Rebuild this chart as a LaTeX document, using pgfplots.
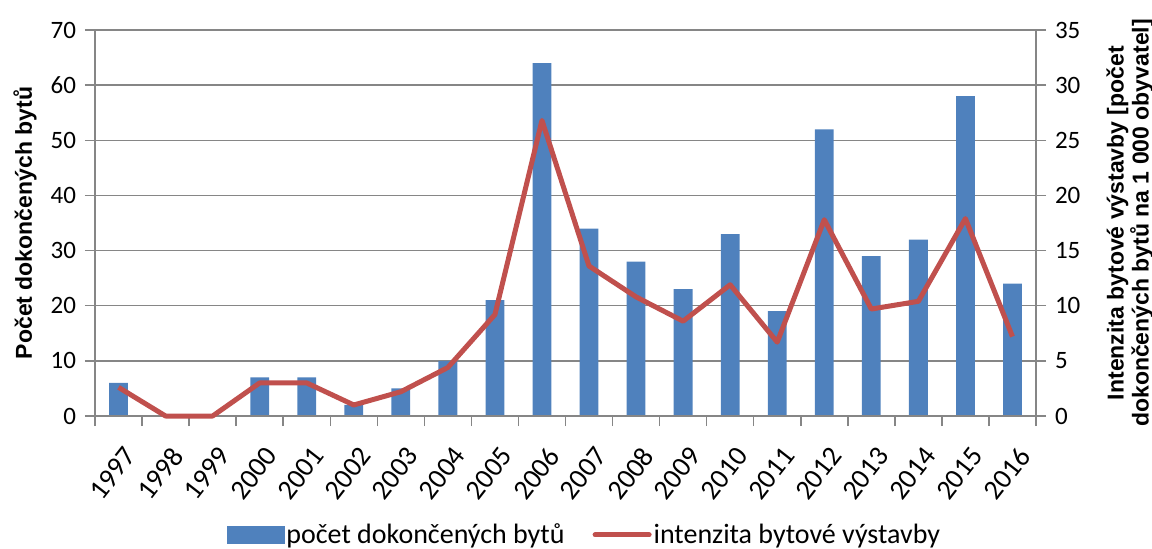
\documentclass[border=0pt]{standalone}
\usepackage{pgfplots}
\pgfplotsset{compat=1.18}
\usepackage{fontspec}
\setmainfont{Carlito}
\newfontfamily\labelfont{Liberation Sans}
\definecolor{barblue}{HTML}{4F81BD}
\definecolor{linered}{HTML}{C0504D}
\definecolor{axgray}{HTML}{868686}

\pgfplotstableread{
x cnt
0 6
1 0
2 0
3 7
4 7
5 2
6 5
7 10
8 21
9 64
10 34
11 28
12 23
13 33
14 19
15 52
16 29
17 32
18 58
19 24
}\bars

\pgfplotstableread{
x val
0 2.6
1 0
2 0
3 3.0
4 3.0
5 1.0
6 2.2
7 4.4
8 9.2
9 26.8
10 13.6
11 10.8
12 8.6
13 11.9
14 6.7
15 17.8
16 9.7
17 10.4
18 17.9
19 7.2
}\intens

\begin{document}
\begin{tikzpicture}
\useasboundingbox (-47.5pt,-66pt) rectangle (528.5pt,208pt);
\begin{axis}[
  at={(0,0)}, anchor=south west,
  scale only axis, width=470.5pt, height=193pt,
  xmin=-0.5, xmax=19.5, ymin=0, ymax=70,
  axis y line*=left, axis x line*=bottom,
  axis line style={axgray, line width=0.75pt},
  ytick={0,10,...,70},
  xtick={0,...,19},
  xticklabels={1997,1998,1999,2000,2001,2002,2003,2004,2005,2006,2007,2008,2009,2010,2011,2012,2013,2014,2015,2016},
  xtick style={draw=none},
  ytick style={axgray, line width=0.75pt},
  tick align=outside, major tick length=5pt,
  ymajorgrids, grid style={axgray, line width=0.75pt},
  /pgf/number format/assume math mode=true,
  tick label style={font=\fontsize{12.5}{14}\selectfont, black},
  xticklabel style={font=\fontsize{14}{16}\selectfont, yshift=-8pt, xshift=2pt, rotate=52, anchor=north east, inner sep=1pt},
  yticklabel style={xshift=-1pt},
  ylabel={Počet dokončených bytů},
  every axis y label/.style={at={(axis description cs:-0.0744,0.5)}, anchor=center, rotate=90, font=\labelfont\bfseries\fontsize{11.5}{13}\selectfont},
  clip=false,
]
\addplot[ybar, bar width=9.4pt, fill=barblue, draw=none] table[x=x, y=cnt] {\bars};
\end{axis}
\begin{axis}[
  at={(0,0)}, anchor=south west,
  scale only axis, width=470.5pt, height=193pt,
  xmin=-0.5, xmax=19.5, ymin=0, ymax=35,
  axis y line*=right, axis x line*=bottom,
  axis line style={axgray, line width=0.75pt},
  ytick={0,5,...,35},
  xtick={-0.5,0.5,...,19.5},
  xticklabels={},
  tick style={axgray, line width=0.75pt},
  tick align=outside, major tick length=5pt,
  /pgf/number format/assume math mode=true,
  tick label style={font=\fontsize{12.5}{14}\selectfont, black},
  yticklabel style={xshift=1pt},
  ylabel={Intenzita bytové výstavby [počet\\dokončených bytů na 1 000 obyvatel]},
  every axis y label/.style={at={(axis description cs:1.0999,0.5)}, anchor=center, rotate=90, align=center, font=\labelfont\bfseries\fontsize{11.5}{12.5}\selectfont},
  legend style={at={(0.52,-0.308)}, anchor=center, draw=none, fill=none, legend columns=2,
    font=\fontsize{14}{16}\selectfont,
    /tikz/every even column/.append style={column sep=13pt},
    nodes={inner xsep=1pt}},
  clip=false,
]
\addlegendimage{legend image code/.code={\fill[barblue] (0pt,-4.25pt) rectangle (28.5pt,4.25pt);}}
\addlegendentry{počet dokončených bytů}
\addplot[linered, line width=2.5pt, line join=round, mark=none,
  legend image code/.code={\draw[linered, line width=2.5pt, line cap=round] (0pt,0pt) -- (27pt,0pt);}]
  table[x=x, y=val] {\intens};
\addlegendentry{intenzita bytové výstavby}
\end{axis}
\end{tikzpicture}
\end{document}
